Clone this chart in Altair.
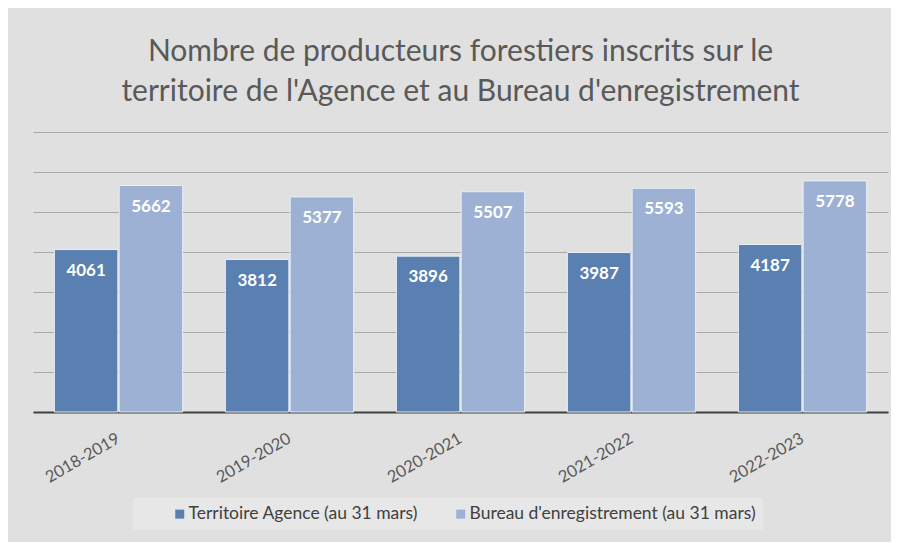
import altair as alt
import pandas as pd

years = ["2018-2019", "2019-2020", "2020-2021", "2021-2022", "2022-2023"]
territoire = [4061, 3812, 3896, 3987, 4187]
bureau = [5662, 5377, 5507, 5593, 5778]
series = ["Territoire Agence (au 31 mars)", "Bureau d'enregistrement (au 31 mars)"]
colors = ["#5a7fb1", "#9db1d5"]

rows = []
for yr, t, b in zip(years, territoire, bureau):
    rows.append({"annee": yr, "serie": series[0], "valeur": t})
    rows.append({"annee": yr, "serie": series[1], "valeur": b})
df = pd.DataFrame(rows)

x = alt.X(
    "annee:N", sort=years, title=None,
    scale=alt.Scale(paddingInner=0.25, paddingOuter=0.125),
    axis=alt.Axis(labelAngle=-30, labelAlign="right", labelBaseline="middle",
                  labelFontSize=16.5, labelColor="#595959", ticks=False,
                  domainColor="#404040", domainWidth=2, labelPadding=25),
)
xo = alt.XOffset("serie:N", sort=series, scale=alt.Scale(paddingInner=0.02))
y = alt.Y(
    "valeur:Q", title=None,
    scale=alt.Scale(domain=[0, 7000]),
    axis=alt.Axis(values=list(range(0, 7001, 1000)), labels=False, ticks=False,
                  domain=False, grid=True, gridColor="#a8a8a8", gridWidth=1),
)

pad = "\u2007" * 4
label_expr = f"indexof(datum.label, 'Bureau') >= 0 ? datum.label + '{pad}' : datum.label"

bars = alt.Chart(df).mark_bar(stroke="#e9eef7", strokeWidth=1).encode(
    x=x, xOffset=xo, y=y,
    color=alt.Color("serie:N", sort=series,
                    scale=alt.Scale(domain=series, range=colors),
                    legend=alt.Legend(title=None, orient="none", direction="horizontal",
                                      legendX=100, legendY=366,
                                      labelFontSize=17.5, labelColor="#404040",
                                      symbolType="square", symbolSize=81,
                                      symbolStrokeWidth=0,
                                      symbolOffset=31, labelOffset=0,
                                      labelExpr=label_expr,
                                      labelLimit=500, columnPadding=2,
                                      fillColor="#e7e7e7", padding=7)),
)

labels = alt.Chart(df).mark_text(baseline="top", dy=13, color="white",
                                 fontWeight="bold", fontSize=17).encode(
    x=x, xOffset=xo, y=y, text=alt.Text("valeur:Q", format="d"),
)

chart = alt.layer(bars, labels).properties(
    width=855, height=280,
    title=alt.Title(
        ["Nombre de producteurs forestiers inscrits sur le",
         "territoire de l'Agence et au Bureau d'enregistrement"],
        fontSize=30, fontWeight="normal", color="#595959", lineHeight=40,
        anchor="middle", offset=25, font="Lato"),
    padding={"left": 25, "top": 29, "right": 3, "bottom": 12},
    background="#e0e0e0",
).configure(font="Lato").configure_view(stroke=None)

chart.save("out.html", embed_options={"renderer": "svg", "actions": False})
